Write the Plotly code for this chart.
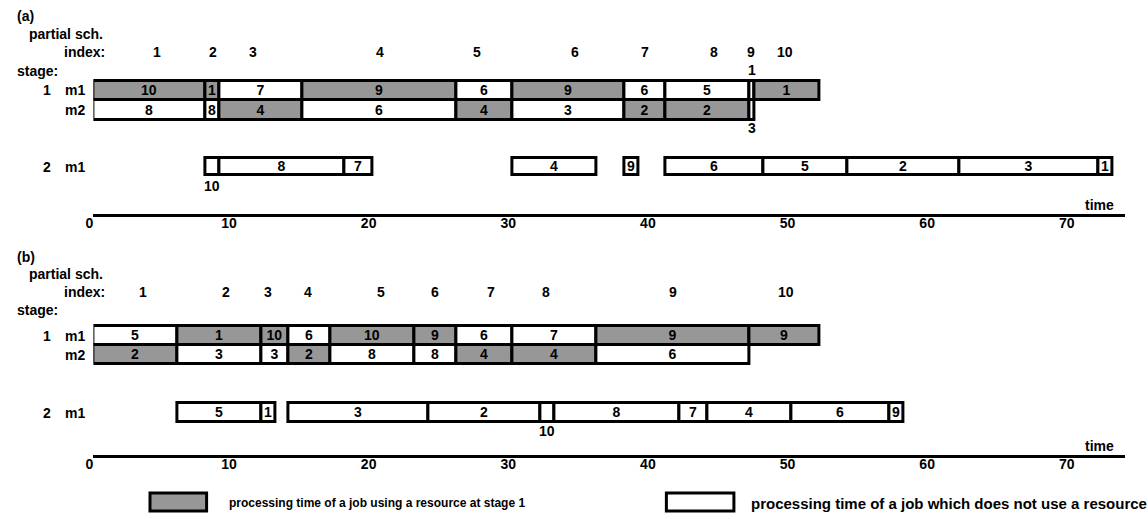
import plotly.graph_objects as go

# ---------------- data ----------------
# panel (a): stage 1 machine 1
a_s1m1_job = ["10", "1", "7", "9", "6", "9", "6", "5", "", "1"]
a_s1m1_start = [0, 8, 9, 15, 26, 30, 38, 41, 47, 47.35]
a_s1m1_end = [8, 9, 15, 26, 30, 38, 41, 47, 47.35, 52]
a_s1m1_res = [1, 1, 0, 1, 0, 1, 0, 0, 0, 1]
# panel (a): stage 1 machine 2
a_s1m2_job = ["8", "8", "4", "6", "4", "3", "2", "2", ""]
a_s1m2_start = [0, 8, 9, 15, 26, 30, 38, 41, 47]
a_s1m2_end = [8, 9, 15, 26, 30, 38, 41, 47, 47.35]
a_s1m2_res = [0, 0, 1, 0, 1, 0, 1, 1, 0]
# panel (a): stage 2 machine 1
a_s2m1_job = ["", "8", "7", "4", "9", "6", "5", "2", "3", "1"]
a_s2m1_start = [8, 9, 18, 30, 38, 41, 48, 54, 62, 72]
a_s2m1_end = [9, 18, 20, 36, 39, 48, 54, 62, 72, 73]
# panel (a): partial schedule indices (position on the time scale)
a_index = ["1", "2", "3", "4", "5", "6", "7", "8", "9", "10"]
a_index_t = [4.55, 8.6, 11.45, 20.55, 27.5, 34.5, 39.5, 44.45, 47.1, 49.5]
# panel (a): job labels written outside very short boxes
a_out_job = ["1", "3", "10"]
a_out_t = [47.17, 47.17, 8.5]

# panel (b): stage 1 machine 1
b_s1m1_job = ["5", "1", "10", "6", "10", "9", "6", "7", "9", "9"]
b_s1m1_start = [0, 6, 12, 14, 17, 23, 26, 30, 36, 47]
b_s1m1_end = [6, 12, 14, 17, 23, 26, 30, 36, 47, 52]
b_s1m1_res = [0, 1, 1, 0, 1, 1, 0, 0, 1, 1]
# panel (b): stage 1 machine 2
b_s1m2_job = ["2", "3", "3", "2", "8", "8", "4", "4", "6"]
b_s1m2_start = [0, 6, 12, 14, 17, 23, 26, 30, 36]
b_s1m2_end = [6, 12, 14, 17, 23, 26, 30, 36, 47]
b_s1m2_res = [1, 0, 0, 1, 0, 0, 1, 1, 0]
# panel (b): stage 2 machine 1
b_s2m1_job = ["5", "1", "3", "2", "", "8", "7", "4", "6", "9"]
b_s2m1_start = [6, 12, 14, 24, 32, 33, 42, 44, 50, 57]
b_s2m1_end = [12, 13, 24, 32, 33, 42, 44, 50, 57, 58]
# panel (b): partial schedule indices
b_index = ["1", "2", "3", "4", "5", "6", "7", "8", "9", "10"]
b_index_t = [3.56, 9.5, 12.5, 15.4, 20.6, 24.5, 28.5, 32.4, 41.5, 49.6]
b_out_job = ["10"]
b_out_t = [32.5]

time_ticks = [0, 10, 20, 30, 40, 50, 60, 70]
legend_texts = [
    "processing time of a job using a resource at stage 1",
    "processing time of a job which does not use a resource",
]

# ---------------- style ----------------
W, H = 1148, 519
GRAY = "#979797"
FONT = "Arial, Liberation Sans, sans-serif"
LBL = dict(family=FONT, size=14, color="black", weight="bold")

fig = go.Figure()


def add_row(jobs, start, end, res, yc, h, xa, ya):
    fig.add_trace(go.Bar(
        orientation="h",
        y=[yc] * len(jobs),
        base=start,
        x=[e - s for s, e in zip(start, end)],
        width=[h] * len(jobs),
        marker=dict(color=[GRAY if r else "white" for r in res],
                    line=dict(color="black", width=3)),
        text=jobs, textposition="inside", insidetextanchor="middle",
        textangle=0, textfont=LBL, cliponaxis=False,
        xaxis=xa, yaxis=ya, showlegend=False, hoverinfo="skip",
    ))


# panel (a) rows (y in pixel units of the panel axis)
add_row(a_s1m1_job, a_s1m1_start, a_s1m1_end, a_s1m1_res, 90.25, 19.5, "x", "y")
add_row(a_s1m2_job, a_s1m2_start, a_s1m2_end, a_s1m2_res, 109.75, 19.5, "x", "y")
add_row(a_s2m1_job, a_s2m1_start, a_s2m1_end, [0] * len(a_s2m1_job), 166.7, 17, "x", "y")
# panel (b) rows
add_row(b_s1m1_job, b_s1m1_start, b_s1m1_end, b_s1m1_res, 335.5, 19, "x2", "y2")
add_row(b_s1m2_job, b_s1m2_start, b_s1m2_end, b_s1m2_res, 354.5, 19, "x2", "y2")
add_row(b_s2m1_job, b_s2m1_start, b_s2m1_end, [0] * len(b_s2m1_job), 412.5, 18.6, "x2", "y2")

ann = []


def text(x, y, s, xref="paper", yref="y", anchor="left", font=LBL):
    if xref == "paper":
        x = x / W
    ann.append(dict(x=x, y=y, xref=xref, yref=yref, text=s, showarrow=False,
                    xanchor=anchor, yanchor="middle", font=font))


# left-side labels
text(7, 16, "(a)")
text(19, 34, "partial sch.")
text(54, 52, "index:")
text(7, 71, "stage:")
text(39, 90, "1", anchor="center")
text(55, 90, "m1")
text(55, 110, "m2")
text(39, 167, "2", anchor="center")
text(55, 167, "m1")

text(7, 257, "(b)", yref="y2")
text(19, 274, "partial sch.", yref="y2")
text(54, 292, "index:", yref="y2")
text(7, 310, "stage:", yref="y2")
text(39, 336, "1", yref="y2", anchor="center")
text(55, 336, "m1", yref="y2")
text(55, 355, "m2", yref="y2")
text(39, 413, "2", yref="y2", anchor="center")
text(55, 413, "m1", yref="y2")

for s, t in zip(a_index, a_index_t):
    text(t, 52, s, xref="x", yref="y", anchor="center")
for s, t in zip(b_index, b_index_t):
    text(t, 292, s, xref="x2", yref="y2", anchor="center")

# labels of very short boxes
a_out_y = [70, 128, 186]
for s, t, y in zip(a_out_job, a_out_t, a_out_y):
    text(t, y, s, xref="x", yref="y", anchor="center")
for s, t in zip(b_out_job, b_out_t):
    text(t, 431, s, xref="x2", yref="y2", anchor="center")

text(1116, 205, "time", anchor="right")
text(1116, 446, "time", yref="y2", anchor="right")

# legend
ann.append(dict(x=221 / W, y=1 - 503 / H, xref="paper", yref="paper", text=legend_texts[0],
                showarrow=False, xanchor="left", yanchor="middle",
                font=dict(family=FONT, size=12, color="black", weight="bold")))
ann.append(dict(x=746 / W, y=1 - 503 / H, xref="paper", yref="paper", text=legend_texts[1],
                showarrow=False, xanchor="left", yanchor="middle",
                font=dict(family=FONT, size=15, color="black", weight="bold")))
shapes = [
    dict(type="rect", xref="paper", yref="paper", x0=143 / W, x1=200 / W,
         y0=1 - 511 / H, y1=1 - 493 / H, fillcolor=GRAY, line=dict(color="black", width=3)),
    dict(type="rect", xref="paper", yref="paper", x0=663 / W, x1=731 / W,
         y0=1 - 511 / H, y1=1 - 493 / H, fillcolor="white", line=dict(color="black", width=3)),
]

X0, X1 = 86, 1125
t_max = (X1 - X0) / 14.06
xcommon = dict(domain=[X0 / W, X1 / W], range=[0, t_max], showline=True, linewidth=3,
               linecolor="black", showgrid=False, zeroline=False, ticks="",
               tickvals=time_ticks, ticktext=[str(v) for v in time_ticks],
               tickfont=LBL, ticklabelshift=-4, ticklabelstandoff=-6, fixedrange=True)

fig.update_layout(
    width=W, height=H, margin=dict(l=0, r=0, t=0, b=0),
    paper_bgcolor="white", plot_bgcolor="rgba(0,0,0,0)",
    barmode="overlay", bargap=0,
    xaxis=dict(anchor="y", **xcommon),
    xaxis2=dict(anchor="y2", matches="x", **xcommon),
    yaxis=dict(domain=[1 - 214 / H, 1], range=[214, 0], visible=False, fixedrange=True),
    yaxis2=dict(domain=[1 - 455 / H, 1 - 240 / H], range=[455, 240], visible=False, fixedrange=True),
    annotations=ann, shapes=shapes,
    uniformtext=dict(minsize=14, mode="show"),
    font=dict(family=FONT),
)

fig.write_html(
    "out.html",
    config={"displayModeBar": False},
    post_script="document.body.style.margin='0px';document.body.style.overflow='hidden';",
)
